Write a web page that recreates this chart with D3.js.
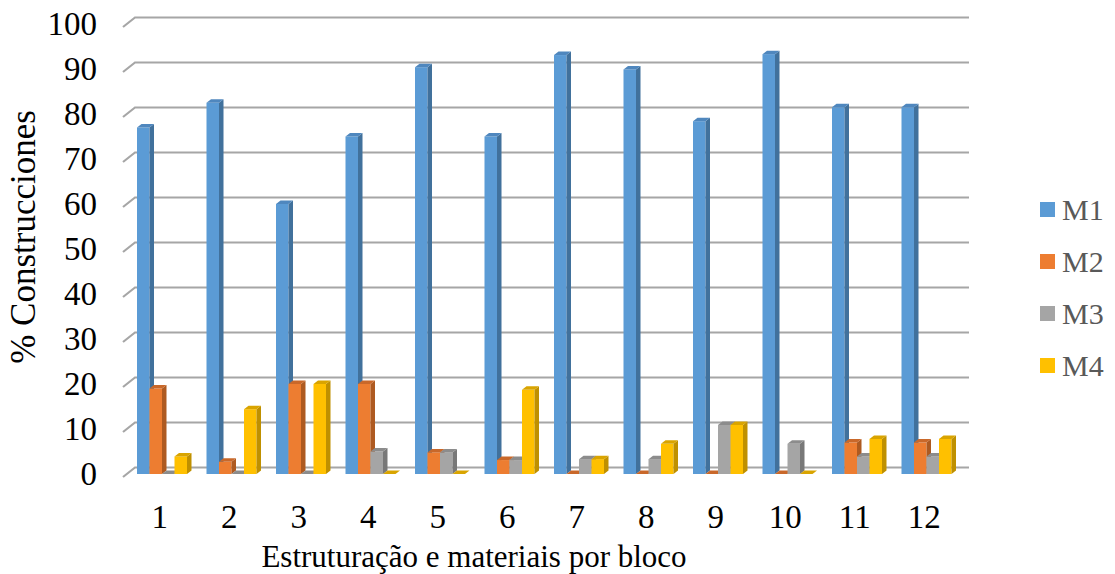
<!DOCTYPE html>
<html>
<head>
<meta charset="utf-8">
<script src="https://cdn.jsdelivr.net/npm/d3@7"></script>
<style>
  html, body { margin: 0; padding: 0; background: #fff; }
  svg { display: block; }
  text { font-family: "Liberation Serif", "Times New Roman", serif; }
</style>
</head>
<body>
<svg id="chart" width="1115" height="574"></svg>
<script>
// Blocks along the x axis
const categories = ["1", "2", "3", "4", "5", "6", "7", "8", "9", "10", "11", "12"];
// Material groups (series)
const seriesNames = ["M1", "M2", "M3", "M4"];
// % of constructions per block, one array per series
const m1 = [77, 82.5, 60, 75, 90.4, 75, 93.1, 89.9, 78.4, 93.3, 81.5, 81.5];
const m2 = [19, 2.7, 20, 20, 4.8, 3.1, 0, 0, 0, 0, 7, 7];
const m3 = [0, 0, 0, 5, 4.8, 3.1, 3.3, 3.3, 10.9, 6.7, 3.9, 3.9];
const m4 = [3.9, 14.4, 20, 0, 0, 18.7, 3.3, 6.7, 10.9, 0, 7.8, 7.8];
const seriesValues = [m1, m2, m3, m4];
// Value axis ticks
const yTicks = [0, 10, 20, 30, 40, 50, 60, 70, 80, 90, 100];

const colors = {
  M1: { front: "#5B9BD5", side: "#41719C", top: "#4F87BE" },
  M2: { front: "#ED7D31", side: "#AE5A21", top: "#C9682A" },
  M3: { front: "#A5A5A5", side: "#787878", top: "#8C8C8C" },
  M4: { front: "#FFC000", side: "#BF9000", top: "#D9A400" }
};

const TICK_FONT = 33;
const svg = d3.select("#chart");

// Scales at the depth plane of the bars
const x0 = d3.scaleBand().domain(categories).range([127, 961]);
const x1 = d3.scaleBand().domain(seriesNames).range([10, 60]);
const y = d3.scaleLinear().domain([0, 100]).range([474, 24]);

// 3D depth offsets: back wall and bar thickness
const wall = { dx: 8, dy: -6.5 };     // bar plane -> back wall
const floorFront = { dx: -4, dy: 3 }; // bar plane -> front edge
const depth = { dx: 4.5, dy: -3.5 };  // bar thickness

// Gridlines on the back wall with the diagonal side-wall edge
const grid = svg.append("g").attr("class", "grid");
yTicks.forEach(v => {
  const yb = y(v);
  const xl = x0.range()[0];
  const xr = x0.range()[1] + wall.dx;
  grid.append("path")
    .attr("d", `M${xl + floorFront.dx},${yb + floorFront.dy} L${xl + wall.dx},${yb + wall.dy} L${xr},${yb + wall.dy}`)
    .attr("fill", "none")
    .attr("stroke", "#A6A6A6")
    .attr("stroke-width", 2.2);
});

// Y tick labels
svg.append("g").selectAll("text")
  .data(yTicks)
  .join("text")
  .attr("x", 97)
  .attr("y", d => y(d) + 11)
  .attr("text-anchor", "end")
  .attr("font-size", TICK_FONT)
  .attr("fill", "#000")
  .text(d => d);

// Bars: front face, right side, top face
const bars = svg.append("g").attr("class", "bars");
categories.forEach((cat, ci) => {
  seriesNames.forEach((s, si) => {
    const v = seriesValues[si][ci];
    const xl = x0(cat) + x1(s);
    const w = x1.bandwidth();
    const yt = y(v);
    const yb = y(0);
    const c = colors[s];
    const g = bars.append("g");
    if (v > 0) {
      g.append("rect")
        .attr("x", xl).attr("y", yt)
        .attr("width", w).attr("height", yb - yt)
        .attr("fill", c.front);
      g.append("path")
        .attr("d", `M${xl + w},${yt} L${xl + w + depth.dx},${yt + depth.dy} L${xl + w + depth.dx},${yb + depth.dy} L${xl + w},${yb} Z`)
        .attr("fill", c.side);
    }
    g.append("path")
      .attr("d", `M${xl},${yt} L${xl + depth.dx},${yt + depth.dy} L${xl + w + depth.dx},${yt + depth.dy} L${xl + w},${yt} Z`)
      .attr("fill", c.top);
  });
});

// X tick labels
svg.append("g").selectAll("text")
  .data(categories)
  .join("text")
  .attr("x", d => x0(d) + x0.bandwidth() / 2 - 2)
  .attr("y", 528)
  .attr("text-anchor", "middle")
  .attr("font-size", TICK_FONT)
  .attr("fill", "#000")
  .text(d => d);

// Axis titles
svg.append("text")
  .attr("x", 474)
  .attr("y", 567)
  .attr("text-anchor", "middle")
  .attr("font-size", 31)
  .attr("fill", "#000")
  .text("Estruturação e materiais por bloco");

svg.append("text")
  .attr("transform", "translate(35,237) rotate(-90)")
  .attr("text-anchor", "middle")
  .attr("font-size", 35)
  .attr("fill", "#000")
  .text("% Construcciones");

// Legend
const legend = svg.append("g").attr("class", "legend");
const ly = d3.scalePoint().domain(seriesNames).range([209.5, 365.5]);
seriesNames.forEach(s => {
  legend.append("rect")
    .attr("x", 1040).attr("y", ly(s) - 7.5)
    .attr("width", 15).attr("height", 15)
    .attr("fill", colors[s].front);
  legend.append("text")
    .attr("x", 1062).attr("y", ly(s) + 10)
    .attr("font-size", 30)
    .attr("fill", "#595959")
    .text(s);
});
</script>
</body>
</html>
